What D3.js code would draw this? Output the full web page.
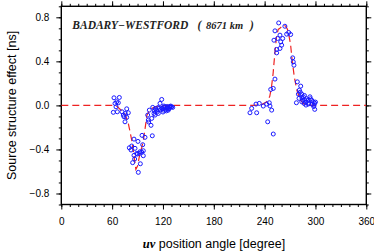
<!DOCTYPE html>
<html><head><meta charset="utf-8">
<script src="https://cdn.jsdelivr.net/npm/d3@7"></script>
<style>
html,body{margin:0;padding:0;background:#fff;}
svg{display:block;}
</style></head>
<body>
<svg id="chart" width="374" height="252"></svg>
<script>
// Observed points (uv position angle [deg], effect [ns])
const obsAngle = [62.2,68.5,65.4,63.4,67.3,61.4,66.1,64.6,71.6,73.2,75.5,77.2,79.1,74,77.2,75.2,
 85.8,80.3,83.1,82.3,87,84.2,86.6,85.8,90.9,90.5,93.3,89.7,92.1,94.9,96.1,95.3,98.8,96.8,96.8,92.9,89,
 103.2,105.9,107.4,102,103.9,106.7,107.9,109.4,112.6,115.7,118.5,116.5,120.4,124.4,128.3,130.3,122.4,126.3,
 114.5,110.6,118.9,121.2,129.1,131.5,102.7,110,113,117,119,121,123,125,127,111,114,120,126,128,124,
 222.7,224.7,229.8,230.6,233.7,238.4,242.4,245.5,246.3,248.3,247.2,250.2,252.2,251,252.2,254.2,256.6,255.4,
 258.1,259,260.1,258.1,261.3,263.9,266,268.4,270.7,273.1,273.8,274.6,254.2,278.6,282.6,281,279.8,283.8,
 285.6,287.6,289.6,291.5,293.5,295.5,297.4,298.3,299.1,277.5,283.8,286.5,291.5,288.8,280.6,243.6,250.2,
 284,287,289,292,294,296,299,300,298,282,285];
const obsValue = [0.069,0.072,0.033,0.018,0.024,-0.063,-0.058,-0.013,-0.058,-0.088,-0.073,-0.031,-0.067,-0.103,-0.109,-0.149,
 -0.306,-0.385,-0.369,-0.405,-0.39,-0.52,-0.487,-0.454,-0.608,-0.327,-0.53,-0.442,-0.436,-0.424,-0.357,-0.272,-0.29,-0.457,-0.412,-0.421,-0.436,
 -0.151,-0.181,-0.276,-0.088,-0.043,-0.118,-0.018,-0.073,-0.043,-0.027,0.054,0.018,-0.043,-0.027,-0.018,-0.013,-0.013,-0.043,
 -0.073,-0.088,-0.027,-0.006,-0.006,-0.018,-0.133,-0.05,-0.06,-0.04,-0.03,-0.02,-0.04,-0.01,-0.03,-0.03,-0.02,-0.06,-0.02,-0.01,-0.05,
 -0.067,-0.027,0.012,-0.067,0.018,-0.006,0.012,0.024,-0.006,-0.043,0.145,0.154,0.239,0.592,0.677,0.477,0.749,0.608,
 0.638,0.577,0.547,0.517,0.608,0.719,0.647,0.662,0.644,0.432,0.395,0.365,0.508,0.214,0.175,0.139,0.102,0.102,
 0.078,0.048,0.06,0.048,0.078,0.048,0.033,0.003,-0.036,0.024,0.033,0.018,0.012,0.003,0.064,-0.149,-0.26,
 0.07,0.09,0.03,0.02,0.06,0.01,0.02,0.03,-0.01,0.12,0.05];

// Model curve
const modelAngle = [0,60,66,70,75,79,83,86,88,90,92,95,97,100,101,104,107,112,117,125,226,236,242,246,248,250,252,254,256,258,262,265,267,269,270.5,272.5,275,278,282,286,290,297,360];
const modelValue = [0,0,-0.01,-0.04,-0.075,-0.16,-0.31,-0.47,-0.58,-0.55,-0.47,-0.38,-0.31,-0.15,-0.09,-0.05,-0.027,-0.01,-0.005,0,0,0.005,0.03,0.08,0.16,0.29,0.47,0.62,0.69,0.70,0.73,0.72,0.69,0.62,0.56,0.41,0.26,0.14,0.05,0.015,0.003,0,0];

const xMajor = [0,60,120,180,240,300,360];
const yMajor = [-0.8,-0.4,0.0,0.4,0.8];

const svg = d3.select("#chart");
const L = 61.3, R = 366.3, T = 6.3, B = 204.5;
const x = d3.scaleLinear().domain([0,360]).range([L,R]);
const y = d3.scaleLinear().domain([-0.9,0.9]).range([B,T]);

const xMinor = d3.range(0,361,10);
const yMinor = d3.range(-9,10).map(d=>d/10);

function styleAxis(g){ g.select(".domain").remove(); g.selectAll("line").attr("stroke","#000").attr("stroke-width",1); }

// minor ticks
svg.append("g").attr("transform",`translate(0,${B})`).call(d3.axisBottom(x).tickValues(xMinor).tickSize(2.5).tickFormat("")).call(styleAxis);
svg.append("g").attr("transform",`translate(0,${T})`).call(d3.axisTop(x).tickValues(xMinor).tickSize(2.5).tickFormat("")).call(styleAxis);
svg.append("g").attr("transform",`translate(${L},0)`).call(d3.axisLeft(y).tickValues(yMinor).tickSize(2.5).tickFormat("")).call(styleAxis);
svg.append("g").attr("transform",`translate(${R},0)`).call(d3.axisRight(y).tickValues(yMinor).tickSize(2.5).tickFormat("")).call(styleAxis);
// major ticks
svg.append("g").attr("transform",`translate(0,${B})`).call(d3.axisBottom(x).tickValues(xMajor).tickSize(5).tickPadding(8).tickFormat(d3.format("d"))).call(styleAxis);
svg.append("g").attr("transform",`translate(0,${T})`).call(d3.axisTop(x).tickValues(xMajor).tickSize(5).tickFormat("")).call(styleAxis);
svg.append("g").attr("transform",`translate(${L},0)`).call(d3.axisLeft(y).tickValues(yMajor).tickSize(5).tickPadding(7).tickFormat(d3.format(".1f"))).call(styleAxis);
svg.append("g").attr("transform",`translate(${R},0)`).call(d3.axisRight(y).tickValues(yMajor).tickSize(5).tickFormat("")).call(styleAxis);
svg.selectAll("g text").attr("font-family","'Liberation Sans', Arial, sans-serif").attr("font-size","10px").attr("fill","#000");

// frame
svg.append("rect").attr("x",L).attr("y",T).attr("width",R-L).attr("height",B-T)
  .attr("fill","none").attr("stroke","#000").attr("stroke-width",1.4);

// clip
svg.append("clipPath").attr("id","clip").append("rect").attr("x",L).attr("y",T).attr("width",R-L).attr("height",B-T);

const model = modelAngle.map((a,i)=>[a,modelValue[i]]);
svg.append("path").datum(model).attr("clip-path","url(#clip)")
  .attr("d", d3.line().x(d=>x(d[0])).y(d=>y(d[1])))
  .attr("fill","none").attr("stroke","#ee2222").attr("stroke-width",1.2).attr("stroke-dasharray","7,4");

const obs = obsAngle.map((a,i)=>[a,obsValue[i]]);
svg.append("g").selectAll("circle").data(obs).join("circle")
  .attr("cx",d=>x(d[0])).attr("cy",d=>y(d[1])).attr("r",2)
  .attr("fill","none").attr("stroke","#1a1aff").attr("stroke-width",1);

// title
const tf = "'Liberation Serif','Times New Roman',serif";
const tt = svg.append("g").attr("font-family",tf).attr("font-style","italic").attr("font-weight","bold").attr("fill","#222");
tt.append("text").attr("x",72.3).attr("y",28.5).attr("font-size","11.5px").text("BADARY−WESTFORD");
tt.append("text").attr("x",197.5).attr("y",28.5).attr("font-size","11.5px").text("(");
tt.append("text").attr("x",206).attr("y",28.5).attr("font-size","10.5px").text("8671 km");
tt.append("text").attr("x",250).attr("y",28.5).attr("font-size","11.5px").text(")");

// axis titles
const xt = svg.append("text").attr("x",214).attr("y",248).attr("text-anchor","middle")
  .attr("font-family","'Liberation Sans', Arial, sans-serif").attr("font-size","12.5px").attr("fill","#000");
xt.append("tspan").attr("font-family",tf).attr("font-style","italic").attr("font-weight","bold").text("uv");
xt.append("tspan").text(" position angle [degree]");

svg.append("text").attr("transform",`translate(15.5,${(T+B)/2}) rotate(-90)`).attr("text-anchor","middle")
  .attr("font-family","'Liberation Sans', Arial, sans-serif").attr("font-size","12.5px").attr("fill","#000")
  .text("Source structure effect [ns]");
</script>
</body></html>
